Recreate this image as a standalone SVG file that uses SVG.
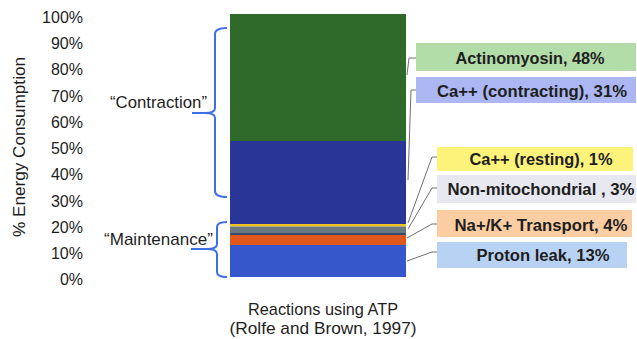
<svg xmlns="http://www.w3.org/2000/svg" width="637" height="339" viewBox="0 0 637 339">
<style>
text{font-family:"Liberation Sans",Arial,sans-serif;fill:#1e1e1e}
.tick{font-size:16px;text-anchor:end}
.lg{font-size:16px;font-weight:bold;text-anchor:middle}
.cap{font-size:17px;text-anchor:middle}
.brace{fill:none;stroke:#3d6fe6;stroke-width:2;stroke-linejoin:round}
.lead{fill:none;stroke:#707070;stroke-width:1}
</style>
<rect width="637" height="339" fill="#fff"/>
<g id="axis">
<text class="tick" x="83" y="23">100%</text>
<text class="tick" x="83" y="49">90%</text>
<text class="tick" x="83" y="75">80%</text>
<text class="tick" x="83" y="102">70%</text>
<text class="tick" x="83" y="128">60%</text>
<text class="tick" x="83" y="154">50%</text>
<text class="tick" x="83" y="180">40%</text>
<text class="tick" x="83" y="207">30%</text>
<text class="tick" x="83" y="233">20%</text>
<text class="tick" x="83" y="259">10%</text>
<text class="tick" x="83" y="285">0%</text>
<text font-size="16" text-anchor="middle" transform="translate(25,147) rotate(-90)" textLength="180" lengthAdjust="spacingAndGlyphs">% Energy Consumption</text>
</g>
<g id="bar">
<rect x="230" y="14" width="176" height="127" fill="#2f6a2a"/>
<rect x="230" y="141" width="176" height="83" fill="#2a3598"/>
<rect x="230" y="224" width="176" height="2.5" fill="#f0c21e"/>
<rect x="230" y="226.5" width="176" height="6.5" fill="#6b7a80"/>
<rect x="230" y="233" width="176" height="2" fill="#3a4a70"/>
<rect x="230" y="235" width="176" height="10" fill="#e0581c"/>
<rect x="230" y="245" width="176" height="32" fill="#3656cc"/>
</g>
<g id="caption">
<text class="cap" x="323" y="315" textLength="150" lengthAdjust="spacingAndGlyphs">Reactions using ATP</text>
<text class="cap" x="323" y="334" textLength="187" lengthAdjust="spacingAndGlyphs">(Rolfe and Brown, 1997)</text>
</g>
<g id="contraction">
<path class="brace" d="M227,28 Q215,28 215,34 V108 Q215,113 205,113 H192 M205,113 Q215,113 215,118 V191 Q215,197 227,197"/>
<text font-size="17" x="158.5" y="108" text-anchor="middle" textLength="97" lengthAdjust="spacingAndGlyphs">“Contraction”</text>
</g>
<g id="maintenance">
<path class="brace" d="M227,222 Q217,222 217,227 V244 Q217,249 207,249 H191 M207,249 Q217,249 217,254 V272 Q217,277 227,277"/>
<text font-size="17" x="158.5" y="245" text-anchor="middle" textLength="109" lengthAdjust="spacingAndGlyphs">“Maintenance”</text>
</g>
<g id="connectors">
<path class="lead" d="M407,75 L409,58 H416"/>
<path class="lead" d="M408,180 L411,90 H416"/>
<path class="lead" d="M408,223 L432,157 H437"/>
<path class="lead" d="M408,229 L432,188 H437"/>
<path class="lead" d="M407,238 L432,224 H437"/>
<path class="lead" d="M407,261 L432,252 H437"/>
</g>
<g id="actinomyosin">
<rect x="416" y="43" width="220" height="28" fill="#b2dca8"/>
<text class="lg" x="530" y="64" textLength="149" lengthAdjust="spacingAndGlyphs">Actinomyosin, 48%</text>
</g>
<g id="ca-contracting">
<rect x="416" y="77" width="220" height="26" fill="#abb6f2"/>
<text class="lg" x="532" y="97" textLength="190" lengthAdjust="spacingAndGlyphs">Ca++ (contracting), 31%</text>
</g>
<g id="ca-resting">
<rect x="437" y="147" width="196" height="24" fill="#fdf27a"/>
<text class="lg" x="541" y="165" textLength="143" lengthAdjust="spacingAndGlyphs">Ca++ (resting), 1%</text>
</g>
<g id="non-mitochondrial">
<rect x="437" y="175" width="199" height="28" fill="#e8e8f0"/>
<text class="lg" x="541" y="195" textLength="187" lengthAdjust="spacingAndGlyphs">Non-mitochondrial , 3%</text>
</g>
<g id="na-k">
<rect x="437" y="210" width="195" height="27" fill="#fbcda2"/>
<text class="lg" x="541" y="231" textLength="173" lengthAdjust="spacingAndGlyphs">Na+/K+ Transport, 4%</text>
</g>
<g id="proton-leak">
<rect x="437" y="242" width="190" height="26" fill="#b8d2f4"/>
<text class="lg" x="543" y="261" textLength="133" lengthAdjust="spacingAndGlyphs">Proton leak, 13%</text>
</g>
</svg>
